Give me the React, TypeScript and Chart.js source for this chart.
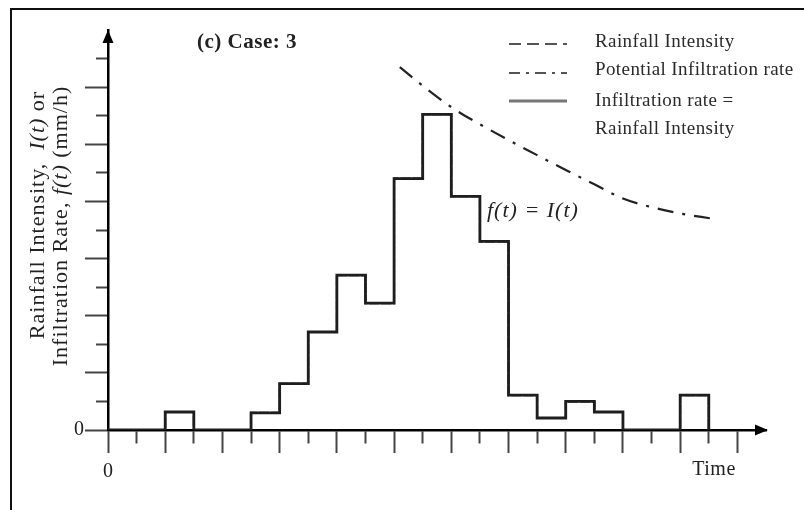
import React, { useEffect, useRef } from "react";
import { Chart, registerables } from "chart.js";

Chart.register(...registerables);

// Step function: value holds from each start time until the next start time
const stepStarts = [0, 2, 3, 5, 6, 7, 8, 9, 10, 11, 12, 13, 14, 15, 16, 17, 18, 20, 21];
const rainfallIntensity = [0, 0.63, 0, 0.6, 1.62, 3.43, 5.42, 4.44, 8.8, 11.05, 8.18, 6.6, 1.22, 0.42, 1.0, 0.63, 0, 1.22, 0];
const infiltrationRate = [0, 0.63, 0, 0.6, 1.62, 3.43, 5.42, 4.44, 8.8, 11.05, 8.18, 6.6, 1.22, 0.42, 1.0, 0.63, 0, 1.22, 0];

// Potential infiltration curve
const potentialTimes = [10.2, 11, 12, 13, 14, 15, 16, 17, 18, 19, 20, 21.1];
const potentialRate = [12.7, 12.05, 11.3, 10.7, 10.15, 9.62, 9.1, 8.6, 8.1, 7.8, 7.58, 7.4];

const xMin = 0;
const xMax = 23;
const yMin = 0;
const yMax = 14;

const chartTitle = "(c) Case: 3";
const annotationText = "f(t) = I(t)";
const xAxisTitle = "Time";
const originLabel = "0";
const legendLabels = ["Rainfall Intensity", "Potential Infiltration rate", "Infiltration rate =", "Rainfall Intensity"];

const SERIF = '"Liberation Serif", "DejaVu Serif", serif';

const drawingPlugin = {
  id: "figureDecor",
  afterDraw(chart: any) {
    const ctx = chart.ctx as CanvasRenderingContext2D;
    const xs = chart.scales.x;
    const ys = chart.scales.y;
    const x0 = xs.getPixelForValue(0);
    const y0 = ys.getPixelForValue(0);
    const xEnd = xs.getPixelForValue(xMax);
    const yTop = ys.getPixelForValue(yMax);
    ctx.save();
    // frame
    ctx.strokeStyle = "#111";
    ctx.lineWidth = 2;
    ctx.setLineDash([]);
    ctx.beginPath();
    ctx.moveTo(11, 520);
    ctx.lineTo(11, 9);
    ctx.lineTo(820, 9);
    ctx.stroke();

    // arrowheads
    ctx.fillStyle = "#000";
    ctx.beginPath();
    ctx.moveTo(xEnd + 2, y0);
    ctx.lineTo(xEnd - 11, y0 - 5.5);
    ctx.lineTo(xEnd - 11, y0 + 5.5);
    ctx.closePath();
    ctx.fill();
    ctx.beginPath();
    ctx.moveTo(x0, yTop);
    ctx.lineTo(x0 - 5.5, yTop + 13);
    ctx.lineTo(x0 + 5.5, yTop + 13);
    ctx.closePath();
    ctx.fill();

    const setSpacing = (px: number) => {
      (ctx as any).letterSpacing = `${px}px`;
    };

    // title
    ctx.fillStyle = "#222";
    ctx.textBaseline = "middle";
    ctx.textAlign = "left";
    setSpacing(0.5);
    ctx.font = `bold 21px ${SERIF}`;
    ctx.fillText(chartTitle, 197, 43);

    // annotation
    setSpacing(1);
    ctx.font = `italic 22px ${SERIF}`;
    ctx.fillText(annotationText, 487, 211);

    // x axis title
    setSpacing(0.5);
    ctx.font = `20px ${SERIF}`;
    ctx.textAlign = "center";
    ctx.fillText(xAxisTitle, 714, 470);

    // y axis title (rotated, mixed italics)
    const drawRich = (segs: [string, string][], cx: number, cy: number) => {
      ctx.save();
      ctx.translate(cx, cy);
      ctx.rotate(-Math.PI / 2);
      ctx.textAlign = "left";
      ctx.textBaseline = "middle";
      let total = 0;
      for (const [t, f] of segs) {
        ctx.font = f;
        total += ctx.measureText(t).width;
      }
      let x = -total / 2;
      for (const [t, f] of segs) {
        ctx.font = f;
        ctx.fillText(t, x, 0);
        x += ctx.measureText(t).width;
      }
      ctx.restore();
    };
    setSpacing(1);
    const reg = `22px ${SERIF}`;
    const ita = `italic 22px ${SERIF}`;
    drawRich([["Rainfall Intensity,  ", reg], ["I(t)", ita], [" or", reg]], 38, 215);
    drawRich([["Infiltration Rate, ", reg], ["f(t)", ita], [" (mm/h)", reg]], 61, 226);

    // legend
    setSpacing(0);
    const lx1 = 509;
    const lx2 = 567;
    ctx.lineCap = "butt";
    ctx.strokeStyle = "#555";
    ctx.lineWidth = 2;
    ctx.setLineDash([12, 6]);
    ctx.beginPath();
    ctx.moveTo(lx1, 44);
    ctx.lineTo(lx2, 44);
    ctx.stroke();
    ctx.setLineDash([11, 6, 3, 6]);
    ctx.beginPath();
    ctx.moveTo(lx1, 73);
    ctx.lineTo(lx2, 73);
    ctx.stroke();
    ctx.setLineDash([]);
    ctx.strokeStyle = "#777";
    ctx.lineWidth = 3;
    ctx.beginPath();
    ctx.moveTo(lx1, 101);
    ctx.lineTo(lx2, 101);
    ctx.stroke();

    ctx.fillStyle = "#2a2a2a";
    setSpacing(0.4);
    ctx.font = `19px ${SERIF}`;
    ctx.textAlign = "left";
    ctx.textBaseline = "middle";
    const ly = [42, 70, 101, 129];
    legendLabels.forEach((t, i) => ctx.fillText(t, 595, ly[i]));
    setSpacing(0);
    ctx.restore();
  },
};

export default function App() {
  const ref = useRef<HTMLCanvasElement | null>(null);
  useEffect(() => {
    if (!ref.current) return;
    const rainfallPts = stepStarts.map((x, i) => ({ x, y: rainfallIntensity[i] }));
    const infiltrationPts = stepStarts.map((x, i) => ({ x, y: infiltrationRate[i] }));
    const potentialPts = potentialTimes.map((x, i) => ({ x, y: potentialRate[i] }));
    const chart = new Chart(ref.current, {
      type: "line",
      data: {
        datasets: [
          {
            label: "Infiltration rate = Rainfall Intensity",
            data: infiltrationPts,
            stepped: "before",
            borderColor: "#1e1e1e",
            borderWidth: 2.8,
            pointRadius: 0,
            fill: false,
          },
          {
            label: "Rainfall Intensity",
            data: rainfallPts,
            stepped: "before",
            borderColor: "#000",
            borderWidth: 2,
            borderDash: [10, 2],
            pointRadius: 0,
            fill: false,
          },
          {
            label: "Potential Infiltration rate",
            data: potentialPts,
            borderColor: "#222",
            borderWidth: 2.2,
            borderDash: [16, 9, 3, 9],
            cubicInterpolationMode: "monotone",
            pointRadius: 0,
            fill: false,
          },
        ],
      },
      options: {
        animation: false,
        responsive: false,
        maintainAspectRatio: false,
        layout: { padding: { left: 0, top: 30, right: 38, bottom: 0 } },
        plugins: { legend: { display: false }, tooltip: { enabled: false }, title: { display: false } },
        scales: {
          x: {
            type: "linear",
            min: xMin,
            max: xMax,
            afterFit: (s: any) => {
              s.height = 80;
            },
            afterBuildTicks: (s: any) => {
              const t = [];
              for (let v = xMin; v <= xMax; v++) t.push({ value: v });
              s.ticks = t;
            },
            ticks: {
              autoSkip: false,
              maxRotation: 0,
              padding: 7,
              color: "#222",
              font: { family: SERIF, size: 20 },
              callback: (v: any) => (v === 0 ? originLabel : ""),
            },
            grid: {
              drawOnChartArea: false,
              drawTicks: true,
              tickLength: 23,
              tickWidth: 2,
              tickColor: (c: any) => (c.tick && c.tick.value >= xMax ? "rgba(0,0,0,0)" : "#444"),
              tickBorderDash: (c: any) => (c.tick && c.tick.value % 2 === 1 ? [12, 40] : []),
            },
            border: { display: true, color: "#000", width: 2.5 },
          },
          y: {
            type: "linear",
            min: yMin,
            max: yMax,
            afterFit: (s: any) => {
              s.width = 108;
            },
            afterBuildTicks: (s: any) => {
              const t = [];
              for (let v = yMin; v <= yMax; v++) t.push({ value: v });
              s.ticks = t;
            },
            ticks: {
              autoSkip: false,
              padding: 1,
              color: "#222",
              font: { family: SERIF, size: 20 },
              callback: (v: any) => (v === 0 ? originLabel : ""),
            },
            grid: {
              drawOnChartArea: false,
              drawTicks: true,
              tickLength: 23,
              tickWidth: 2,
              tickColor: (c: any) => (c.tick && c.tick.value >= yMax ? "rgba(0,0,0,0)" : "#444"),
              tickBorderDash: (c: any) => (c.tick && c.tick.value % 2 === 1 ? [0, 11, 40, 0] : []),
            },
            border: { display: true, color: "#000", width: 2.5 },
          },
        },
      },
      plugins: [drawingPlugin],
    });
    return () => chart.destroy();
  }, []);
  return (
    <div style={{ position: "fixed", left: 0, top: 0, width: 804, height: 510, background: "#fff" }}>
      <canvas ref={ref} width={804} height={510} style={{ display: "block", width: 804, height: 510 }} />
    </div>
  );
}
